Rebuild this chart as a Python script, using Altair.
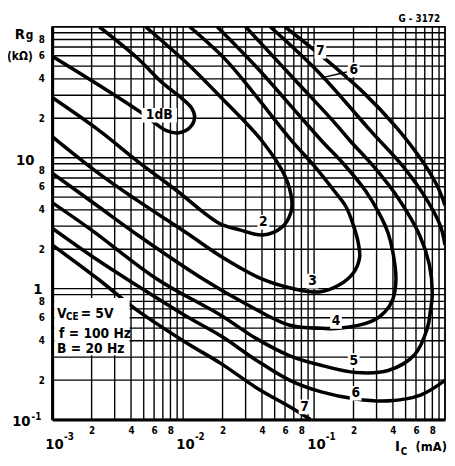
import altair as alt
import pandas as pd

FONT = "Liberation Sans Narrow, DejaVu Sans Condensed, Liberation Sans, sans-serif"

# ---------------- data (Ic in mA, Rg in kOhm) ----------------
nf1_ic = [0.00229, 0.00449, 0.00692, 0.00977, 0.01161, 0.01223, 0.01122, 0.00928, 0.00754, 0.00473, 0.00225, 0.001]
nf1_rg = [100, 57.5, 37.4, 28.4, 23.9, 20.4, 16.9, 15.5, 16.0, 22.3, 36.1, 59.6]

nf2_ic = [0.00516, 0.01065, 0.0195, 0.0403, 0.0599, 0.0676, 0.0665, 0.0569, 0.0403, 0.0275, 0.0188, 0.00896, 0.00449, 0.00225, 0.001]
nf2_rg = [100, 52.8, 28.8, 13.3, 7.24, 4.70, 3.82, 2.95, 2.57, 2.80, 3.16, 5.59, 9.39, 16.3, 28.8]

nf3_ic = [0.01122, 0.02126, 0.0357, 0.0653, 0.1006, 0.1421, 0.1748, 0.2007, 0.2188, 0.2226, 0.2007, 0.1549, 0.1096, 0.0712, 0.0403, 0.0195, 0.01065, 0.00449, 0.00225, 0.001]
nf3_rg = [100, 55.6, 29.9, 14.0, 8.61, 5.59, 4.24, 3.00, 2.16, 1.73, 1.33, 1.065, 0.944, 0.994, 1.18, 1.76, 2.66, 4.70, 7.63, 14.5]

nf4_ic = [0.0182, 0.0357, 0.0712, 0.1155, 0.1689, 0.2469, 0.3199, 0.3673, 0.4004, 0.4217, 0.4004, 0.3487, 0.2738, 0.1549, 0.1155, 0.0653, 0.0300, 0.01429, 0.00449, 0.00225, 0.001]
nf4_rg = [100, 50.1, 23.0, 13.3, 8.91, 5.59, 3.63, 2.66, 1.88, 1.18, 0.837, 0.668, 0.562, 0.498, 0.498, 0.525, 0.767, 1.18, 2.57, 4.24, 7.63]

nf5_ic = [0.0300, 0.0712, 0.1421, 0.1905, 0.2836, 0.4365, 0.6383, 0.7586, 0.7989, 0.7718, 0.7328, 0.5853, 0.3673, 0.2078, 0.1155, 0.0653, 0.0357, 0.0195, 0.00635, 0.0020, 0.001]
nf5_rg = [100, 39.4, 18.7, 13.3, 8.61, 4.95, 2.57, 1.53, 0.912, 0.668, 0.498, 0.313, 0.237, 0.229, 0.2585, 0.307, 0.419, 0.624, 1.18, 2.80, 4.54]

nf6_upper_ic = [0.0462, 0.1096, 0.2738, 0.4758, 0.7328, 0.917, 1.0]
nf6_upper_rg = [100, 44.4, 15.8, 8.61, 4.70, 3.05, 2.16]
nf6_lower_ic = [1.0, 0.6494, 0.3673, 0.2078, 0.1155, 0.0653, 0.0357, 0.0195, 0.01065, 0.00449, 0.00225, 0.001]
nf6_lower_rg = [0.1995, 0.154, 0.139, 0.1437, 0.162, 0.1995, 0.287, 0.434, 0.613, 1.05, 1.64, 2.90]

nf7_upper_ic = [0.0599, 0.1196, 0.2386, 0.4217, 0.6722, 0.871, 1.0]
nf7_upper_rg = [100, 57.5, 31.4, 17.2, 9.39, 6.10, 4.32]
nf7_lower_ic = [0.0939, 0.0712, 0.0357, 0.0195, 0.01065, 0.00449, 0.00225, 0.001]
nf7_lower_rg = [0.1, 0.119, 0.177, 0.2676, 0.385, 0.680, 1.18, 2.16]

# curve labels
lbl_text = ["1dB", "2", "3", "4", "5", "6", "7", "7", "6"]
lbl_ic = [0.00657, 0.041, 0.0972, 0.147, 0.2007, 0.2078, 0.0846, 0.1116, 0.2007]
lbl_rg = [21.1, 3.22, 1.14, 0.562, 0.282, 0.159, 0.125, 64.9, 46.8]

# leader line for upper "6"
leader_ic = [0.1135]
leader_ic2 = [0.178]
leader_rg = [40.7]
leader_rg2 = [45.2]

# axes / grid
mantissas = [1, 2, 3, 4, 5, 6, 7, 8, 9]
label_mantissas = [2, 4, 6, 8]
x_decades = [0.001, 0.01, 0.1]
y_decades = [0.1, 1, 10]
x_grid = [m * d for d in x_decades for m in mantissas] + [1.0]
y_grid = [m * d for d in y_decades for m in mantissas] + [100.0]
x_label_vals = [m * d for d in x_decades for m in label_mantissas]
y_label_vals = [m * d for d in y_decades for m in label_mantissas]
x_dec_base = ["10", "10", "10"]
x_dec_exp = ["-3", "-2", "-1"]

# ---------------- build tables ----------------
segments = [
    ("1", nf1_ic, nf1_rg), ("2", nf2_ic, nf2_rg), ("3", nf3_ic, nf3_rg),
    ("4", nf4_ic, nf4_rg), ("5", nf5_ic, nf5_rg),
    ("6u", nf6_upper_ic, nf6_upper_rg), ("6l", nf6_lower_ic, nf6_lower_rg),
    ("7u", nf7_upper_ic, nf7_upper_rg), ("7l", nf7_lower_ic, nf7_lower_rg),
]
rows = []
for seg, ics, rgs in segments:
    for i, (a, b) in enumerate(zip(ics, rgs)):
        rows.append({"seg": seg, "ic": a, "rg": b, "ord": i})
curve_df = pd.DataFrame(rows)
lbl_df = pd.DataFrame({"t": lbl_text, "ic": lbl_ic, "rg": lbl_rg})
xdec_df = pd.DataFrame({"v": x_decades, "base": x_dec_base, "exp": x_dec_exp})
one = pd.DataFrame({"a": [0]})

xs = alt.Scale(type="log", domain=[0.001, 1], nice=False)
ys = alt.Scale(type="log", domain=[0.1, 100], nice=False)
LABEL_EXPR = "format(datum.value / pow(10, floor(log(datum.value) / LN10 + 1e-6)), '.0f')"

x_axis = alt.Axis(values=x_label_vals, labelExpr=LABEL_EXPR, grid=False, ticks=False,
                  domain=True, domainColor="black", domainWidth=3, labelFont=FONT,
                  labelFontSize=10, labelFontWeight="bold", labelColor="black",
                  labelPadding=6, title=None, labelOverlap=False, labelFlush=False)
y_axis = alt.Axis(values=y_label_vals, labelExpr=LABEL_EXPR, grid=False, ticks=False,
                  domain=True, domainColor="black", domainWidth=3, labelFont=FONT,
                  labelFontSize=10, labelFontWeight="bold", labelColor="black",
                  labelPadding=8, title=None, labelOverlap=False, labelFlush=False)


def X(f):
    return alt.X(f, type="quantitative", scale=xs, axis=x_axis)


def Y(f):
    return alt.Y(f, type="quantitative", scale=ys, axis=y_axis)


def note(txt, x, y, size, align="left", baseline="alphabetic"):
    return alt.Chart(one).mark_text(text=txt, font=FONT, fontSize=size, fontWeight="bold",
                                    align=align, baseline=baseline, color="black").encode(
        x=alt.value(x), y=alt.value(y))


layers = []
layers.append(alt.Chart(pd.DataFrame({"v": x_grid})).mark_rule(color="black", strokeWidth=1.4).encode(x=X("v")))
layers.append(alt.Chart(pd.DataFrame({"v": y_grid})).mark_rule(color="black", strokeWidth=1.4).encode(y=Y("v")))
layers.append(alt.Chart(curve_df).mark_line(color="black", strokeWidth=3.6, interpolate="catmull-rom",
                                            clip=True).encode(
    x=X("ic"), y=Y("rg"), detail="seg:N", order="ord:Q"))
# white boxes behind labels
layers.append(alt.Chart(lbl_df).transform_filter("datum.t == '1dB'").mark_rect(
    color="white", width=36, height=15).encode(x=X("ic"), y=Y("rg")))
layers.append(alt.Chart(lbl_df).transform_filter("datum.t != '1dB'").mark_rect(
    color="white", width=12, height=15).encode(x=X("ic"), y=Y("rg")))
layers.append(alt.Chart(lbl_df).mark_text(font=FONT, fontSize=14, fontWeight="bold", color="black",
                                          align="center", baseline="middle").encode(
    x=X("ic"), y=Y("rg"), text="t:N"))
layers.append(alt.Chart(pd.DataFrame({"ic": leader_ic, "ic2": leader_ic2, "rg": leader_rg, "rg2": leader_rg2}))
              .mark_rule(color="black", strokeWidth=1.5).encode(x=X("ic"), x2="ic2", y=Y("rg"), y2="rg2"))
# legend box
layers.append(alt.Chart(pd.DataFrame({"x1": [0.00104], "x2": [0.0039], "y1": [0.85], "y2": [0.31]}))
              .mark_rect(color="white").encode(x=X("x1"), x2="x2", y=Y("y1"), y2="y2"))
# x decade labels
layers.append(alt.Chart(xdec_df).mark_text(font=FONT, fontSize=15, fontWeight="bold", color="black",
                                           align="left", baseline="alphabetic", dx=-7).encode(
    x=X("v"), y=alt.value(430), text="base:N"))
layers.append(alt.Chart(xdec_df).mark_text(font=FONT, fontSize=10, fontWeight="bold", color="black",
                                           align="left", baseline="alphabetic", dx=12).encode(
    x=X("v"), y=alt.value(421), text="exp:N"))
# y decade labels
for val, txt, xoff, dy in [(0.1, "10", -22, 7), (1, "1", -10, 5), (10, "10", -18, 7)]:
    layers.append(alt.Chart(pd.DataFrame({"v": [val], "t": [txt]})).mark_text(
        font=FONT, fontSize=15, fontWeight="bold", color="black", align="right",
        baseline="alphabetic", dy=dy).encode(x=alt.value(xoff), y=Y("v"), text="t:N"))
layers.append(alt.Chart(pd.DataFrame({"v": [0.1], "t": ["-1"]})).mark_text(
    font=FONT, fontSize=10, fontWeight="bold", color="black", align="left",
    baseline="alphabetic", dy=0).encode(x=alt.value(-21), y=Y("v"), text="t:N"))

# titles and notes
layers += [
    note("R", -38, 12, 15),
    note("g", -27, 12, 12),
    note("(kΩ)", -46, 34, 12),
    note("G - 3172", 395, -5, 10, align="right"),
    note("I", 349, 432, 15),
    note("C", 355, 436, 10),
    note("(mA)", 370, 432, 13),
    note("V", 5, 297, 14),
    note("CE", 14, 299, 10),
    note("= 5V", 29, 297, 14),
    note("f = 100 Hz", 7, 317, 14),
    note("B = 20 Hz", 5, 332, 14),
]

chart = alt.layer(*layers).properties(
    width=400, height=400,
    padding={"left": 45, "top": 15, "right": 2, "bottom": 35},
    autosize=alt.AutoSizeParams(type="none"),
    background="white",
).configure_view(stroke="black", strokeWidth=1.5)

chart.save("out.html", embed_options={"renderer": "svg", "actions": False})
